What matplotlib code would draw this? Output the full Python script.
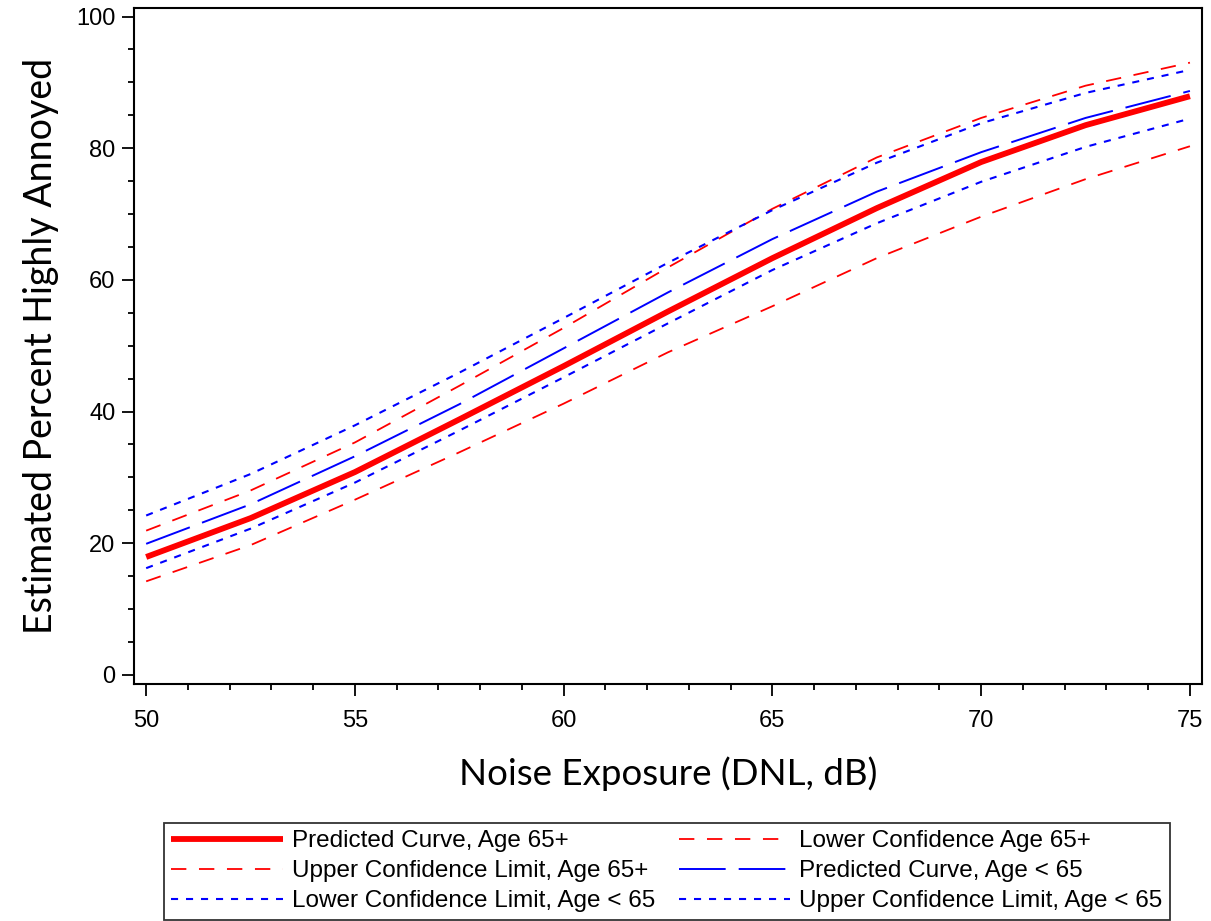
import matplotlib.pyplot as plt
from matplotlib.ticker import MultipleLocator

# noise exposure (DNL, dB) and estimated percent highly annoyed
dnl = [50, 52.5, 55, 57.5, 60, 62.5, 65, 67.5, 70, 72.5, 75]

pred_65 = [17.9, 23.8, 30.8, 38.8, 46.9, 55.2, 63.3, 70.9, 77.9, 83.5, 87.9]
upper_65 = [21.9, 28.0, 35.3, 43.9, 52.7, 61.9, 70.8, 78.6, 84.6, 89.5, 93.0]
lower_65 = [14.2, 19.7, 26.6, 33.8, 41.2, 49.0, 56.0, 63.3, 69.6, 75.3, 80.3]

pred_u65 = [19.9, 25.9, 33.2, 41.1, 49.6, 58.1, 66.2, 73.4, 79.4, 84.6, 88.7]
upper_u65 = [24.2, 30.5, 37.9, 45.9, 54.2, 62.6, 70.6, 77.8, 83.8, 88.4, 91.9]
lower_u65 = [16.2, 22.2, 29.2, 37.1, 45.2, 53.4, 61.5, 68.6, 74.9, 80.2, 84.5]

fig = plt.figure(figsize=(12.11, 9.21), dpi=100)
ax = fig.add_axes([0.1107, 0.2573, 0.8819, 0.734])

red_dash = (0, (8.5, 7.0))
blue_long = (0, (24, 6.7))
blue_short = (0, (3.4, 3.8))

h1, = ax.plot(dnl, pred_65, color='#ff0000', lw=4.2, solid_capstyle='butt',
              solid_joinstyle='round', label='Predicted Curve, Age 65+', zorder=5)
h2, = ax.plot(dnl, lower_65, color='#ff0000', lw=1.3, linestyle=red_dash,
              label='Lower Confidence Age 65+')
h3, = ax.plot(dnl, upper_65, color='#ff0000', lw=1.3, linestyle=red_dash,
              label='Upper Confidence Limit, Age 65+')
h4, = ax.plot(dnl, pred_u65, color='#0000ff', lw=1.4, linestyle=blue_long,
              label='Predicted Curve, Age < 65')
h5, = ax.plot(dnl, lower_u65, color='#0000ff', lw=1.5, linestyle=blue_short,
              label='Lower Confidence Limit, Age < 65')
h6, = ax.plot(dnl, upper_u65, color='#0000ff', lw=1.5, linestyle=blue_short,
              label='Upper Confidence Limit, Age < 65')

ax.set_xlim(49.71, 75.29)
ax.set_ylim(-1.4, 101.3)
ax.xaxis.set_major_locator(MultipleLocator(5))
ax.xaxis.set_minor_locator(MultipleLocator(1))
ax.yaxis.set_major_locator(MultipleLocator(20))
ax.yaxis.set_minor_locator(MultipleLocator(5))

for s in ax.spines.values():
    s.set_linewidth(1.5)
ax.tick_params(which='major', direction='out', length=8.5, width=1.3, labelsize=17)
ax.tick_params(which='minor', direction='out', length=4.5, width=1.3)
ax.tick_params(axis='x', which='major', pad=10)
ax.tick_params(axis='y', which='major', pad=5)
for lab in ax.get_xticklabels() + ax.get_yticklabels():
    lab.set_family('Liberation Sans')

ax.set_xlabel('Noise Exposure (DNL, dB)', fontsize=26.5, family='Lato', labelpad=18)
ax.set_ylabel('Estimated Percent Highly Annoyed', fontsize=27, family='Lato', labelpad=12)

# column-major order so rows read like the original
order = [h1, h3, h5, h2, h4, h6]
leg = fig.legend(order, [h.get_label() for h in order],
                 ncol=2, loc='upper center', bbox_to_anchor=(0.5508, 0.1064),
                 prop={'family': 'Liberation Sans', 'size': 17.5},
                 frameon=True, fancybox=False, edgecolor='black',
                 handlelength=4.6, handletextpad=0.37, columnspacing=0.95,
                 labelspacing=0.33, borderpad=0.3, borderaxespad=0)
leg.get_frame().set_linewidth(1.3)

fig.savefig('out.png', dpi=100)
